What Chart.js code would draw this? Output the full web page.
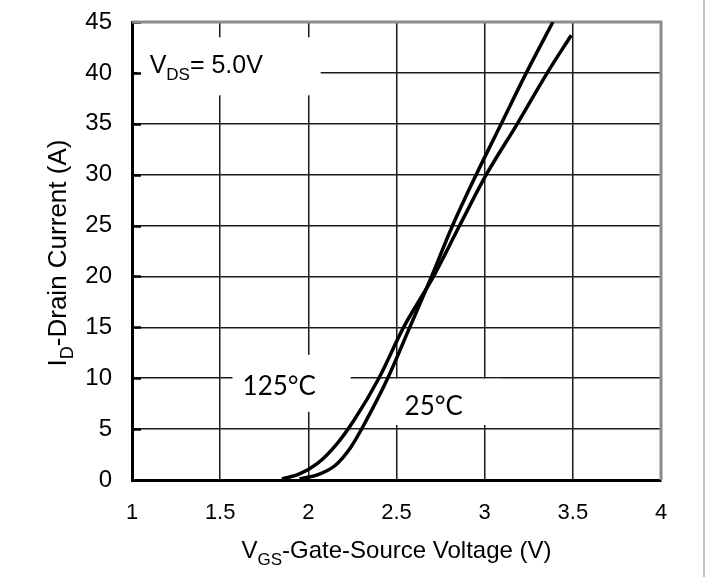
<!DOCTYPE html>
<html>
<head>
<meta charset="utf-8">
<script src="https://cdn.jsdelivr.net/npm/chart.js@4"></script>
<style>
  html, body { margin: 0; padding: 0; background: #fff; }
  #wrap { position: relative; width: 711px; height: 577px; }
</style>
</head>
<body>
<div id="wrap"><canvas id="c" width="711" height="577"></canvas></div>
<script>
// ---- data ----
const vgs25  = [1.95, 2.05, 2.15, 2.24, 2.33, 2.45, 2.575, 2.699, 2.818, 2.952, 3.094, 3.236, 3.387];
const id25   = [0.1,  0.5,  1.4,  3.2,  5.9,  10,   15,    20,    25,    30,    35,    40,    45];
const vgs125 = [1.85, 1.95, 2.05, 2.15, 2.26, 2.40, 2.54, 2.71, 2.858, 3.009, 3.185, 3.355, 3.491];
const id125  = [0.1,  0.6,  1.6,  3.3,  5.9,  10,   15,   20,   25,    30,    35,    40,    43.7];
const xTickValues = [1, 1.5, 2, 2.5, 3, 3.5, 4];
const yTickValues = [0, 5, 10, 15, 20, 25, 30, 35, 40, 45];
const seriesNames = ['25°C', '125°C'];
const yTitle = ['I', 'D', '-Drain Current (A)'];
const xTitle = ['V', 'GS', '-Gate-Source Voltage (V)'];
const condLabel = ['V', 'DS', '= 5.0V'];

function toPts(xs, ys) { return xs.map((v, i) => ({ x: v, y: ys[i] })); }

// draw text with subscript: parts [main, sub, rest]
function drawSub(ctx, parts, x, y, size, subSize, family, align) {
  const f1 = size + 'px ' + family, f2 = subSize + 'px ' + family;
  ctx.font = f1; const w1 = ctx.measureText(parts[0]).width;
  ctx.font = f2; const w2 = ctx.measureText(parts[1]).width;
  ctx.font = f1; const w3 = ctx.measureText(parts[2]).width;
  const total = w1 + w2 + w3;
  let sx = x;
  if (align === 'center') sx = x - total / 2;
  ctx.textAlign = 'left'; ctx.textBaseline = 'alphabetic';
  ctx.font = f1; ctx.fillText(parts[0], sx, y);
  ctx.font = f2; ctx.fillText(parts[1], sx + w1, y + size * 0.28);
  ctx.font = f1; ctx.fillText(parts[2], sx + w1 + w2, y);
}

const decor = {
  id: 'decor',
  beforeDatasetsDraw(chart) {
    const { ctx, scales: { x, y }, chartArea: a } = chart;
    ctx.save();
    // white boxes behind labels (they interrupt grid lines)
    ctx.fillStyle = '#fff';
    const box = (v0, v1, i0, i1) => {
      const px0 = x.getPixelForValue(v0), px1 = x.getPixelForValue(v1);
      const py0 = y.getPixelForValue(i0), py1 = y.getPixelForValue(i1);
      ctx.fillRect(px0, py0, px1 - px0, py1 - py0);
    };
    box(1.03, 2.07, 43.5, 37.8);
    box(1.57, 2.24, 12.3, 6.7);
    box(2.477, 3.095, 9.95, 5.4);
    // inner tick marks on left axis
    ctx.strokeStyle = '#000'; ctx.lineWidth = 2.5;
    yTickValues.forEach(v => {
      const py = Math.round(y.getPixelForValue(v)) + 0.5;
      ctx.beginPath(); ctx.moveTo(a.left, py); ctx.lineTo(a.left + 9, py); ctx.stroke();
    });
    // gray top & right frame
    ctx.strokeStyle = '#8c8c8c'; ctx.lineWidth = 3;
    ctx.beginPath();
    ctx.moveTo(a.left, a.top); ctx.lineTo(a.right, a.top); ctx.lineTo(a.right, a.bottom);
    ctx.stroke();
    // labels
    ctx.fillStyle = '#000';
    drawSub(ctx, condLabel, x.getPixelForValue(1.10), y.getPixelForValue(40.0), 25, 17, '"Liberation Sans", Arial, sans-serif', 'left');
    ctx.font = '26px Lato, sans-serif'; ctx.textAlign = 'left'; ctx.textBaseline = 'alphabetic';
    ctx.fillText(seriesNames[1], x.getPixelForValue(1.627), y.getPixelForValue(8.36));
    ctx.fillText(seriesNames[0], x.getPixelForValue(2.546), y.getPixelForValue(6.4));
    ctx.restore();
  },
  afterDraw(chart) {
    const { ctx, scales: { x, y }, chartArea: a } = chart;
    ctx.save();
    ctx.fillStyle = '#000';
    // y axis title (rotated)
    ctx.translate(66, (a.top + a.bottom) / 2 + 2);
    ctx.rotate(-Math.PI / 2);
    drawSub(ctx, yTitle, 0, 0, 26, 18, '"Liberation Sans", Arial, sans-serif', 'center');
    ctx.restore();
    ctx.save();
    ctx.fillStyle = '#000';
    drawSub(ctx, xTitle, (a.left + a.right) / 2, 558, 24, 17, '"Liberation Sans", Arial, sans-serif', 'center');
    // light vertical frame line at the right of the figure
    ctx.strokeStyle = '#c4c4c4'; ctx.lineWidth = 2;
    ctx.beginPath(); ctx.moveTo(704, 0); ctx.lineTo(704, 577); ctx.stroke();
    ctx.restore();
  }
};

new Chart(document.getElementById('c'), {
  type: 'line',
  data: {
    datasets: [
      { label: seriesNames[0], data: toPts(vgs25, id25) },
      { label: seriesNames[1], data: toPts(vgs125, id125) }
    ].map(d => Object.assign(d, {
      borderColor: '#000', borderWidth: 3.5, pointRadius: 0, fill: false,
      cubicInterpolationMode: 'monotone'
    }))
  },
  options: {
    responsive: false, animation: false, devicePixelRatio: 1,
    layout: { padding: { top: 22, right: 50, left: 0, bottom: 0 } },
    plugins: { legend: { display: false }, tooltip: { enabled: false } },
    scales: {
      x: {
        type: 'linear', min: 1, max: 4,
        afterBuildTicks: s => { s.ticks = xTickValues.map(v => ({ value: v })); },
        afterFit: s => { s.height = 97; s.paddingLeft = 0; s.paddingRight = 0; },
        grid: { color: '#1a1a1a', lineWidth: 1.5, drawTicks: false },
        border: { color: '#000', width: 3 },
        ticks: { padding: 20, color: '#000', callback: v => String(v),
                 font: { family: '"Liberation Sans", Arial, sans-serif', size: 22 } }
      },
      y: {
        min: 0, max: 45,
        afterBuildTicks: s => { s.ticks = yTickValues.map(v => ({ value: v })); },
        afterFit: s => { s.width = 132; s.paddingTop = 0; s.paddingBottom = 0; },
        grid: { color: '#1a1a1a', lineWidth: 1.5, drawTicks: false },
        border: { color: '#000', width: 3 },
        ticks: { padding: 20, color: '#000', callback: v => String(v),
                 font: { family: '"Liberation Sans", Arial, sans-serif', size: 24 } }
      }
    }
  },
  plugins: [decor]
});
</script>
</body>
</html>
